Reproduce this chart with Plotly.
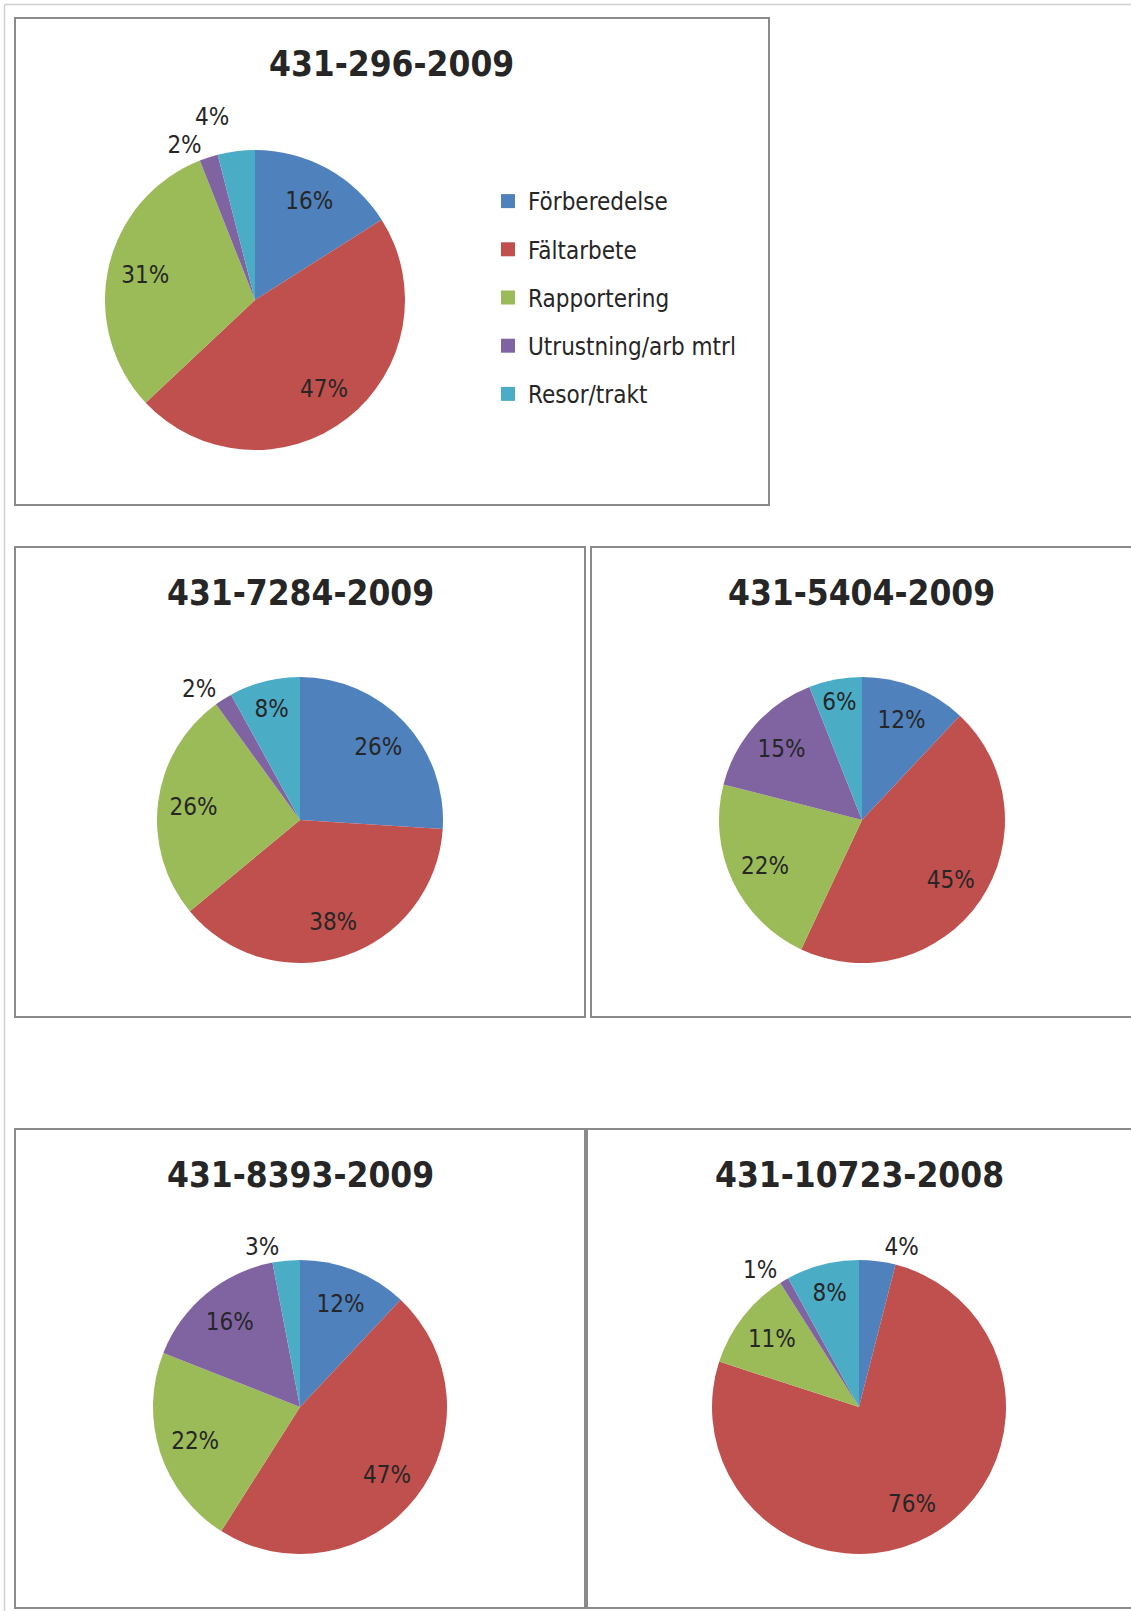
import plotly.graph_objects as go

W, H = 1131, 1611

categories = ["Förberedelse", "Fältarbete", "Rapportering", "Utrustning/arb mtrl", "Resor/trakt"]
colors = ["#4F81BD", "#C0504D", "#9BBB59", "#8064A2", "#4BACC6"]

titles = ["431-296-2009", "431-7284-2009", "431-5404-2009", "431-8393-2009", "431-10723-2008"]
values_296 = [16, 47, 31, 2, 4]
values_7284 = [26, 38, 26, 2, 8]
values_5404 = [12, 45, 22, 15, 6]
values_8393 = [12, 47, 22, 16, 3]
values_10723 = [4, 76, 11, 1, 8]
all_values = [values_296, values_7284, values_5404, values_8393, values_10723]

# label positions (inside / outside) per chart
textpos = [
    ["inside", "inside", "inside", "outside", "outside"],
    ["inside", "inside", "inside", "outside", "inside"],
    ["inside", "inside", "inside", "inside", "inside"],
    ["inside", "inside", "inside", "inside", "outside"],
    ["outside", "inside", "inside", "outside", "inside"],
]

# layout (pixels): pie centre x, centre y, radius
pies = [(255, 300, 150), (300, 820, 143), (862, 820, 143), (300, 1407, 147), (859, 1407, 147)]
title_pos = [(391, 64), (300, 593), (861, 593), (300, 1175), (859, 1175)]
boxes = [(15, 18, 769, 505), (15, 547, 585, 1017), (591, 547, 1140, 1017),
         (15, 1129, 585, 1608), (587, 1129, 1140, 1608)]

FONT = "DejaVu Sans Condensed, sans-serif"
TXT = "#262626"

fig = go.Figure()

def fx(px):
    return px / W

def fy(py):
    return 1 - py / H

for vals, (cx, cy, r), tp in zip(all_values, pies, textpos):
    dom = dict(x=[fx(cx - r), fx(cx + r)], y=[fy(cy + r), fy(cy - r)])
    # coloured pie
    fig.add_trace(go.Pie(
        labels=categories, values=vals, sort=False, direction="clockwise", rotation=0,
        marker=dict(colors=colors, line=dict(width=0)),
        textinfo="none", domain=dom, showlegend=False, hoverinfo="label+percent",
    ))
    # data labels (transparent ring overlay so labels sit at ~3/4 radius like Excel)
    fig.add_trace(go.Pie(
        labels=categories, values=vals, sort=False, direction="clockwise", rotation=0,
        hole=0.5,
        marker=dict(colors=["rgba(0,0,0,0)"] * len(vals), line=dict(width=0)),
        texttemplate="<span style='color:%s;fill-opacity:1'>%%{value}%%</span>" % TXT,
        textposition=tp,
        insidetextorientation="horizontal",
        textfont=dict(family=FONT, size=24, color=TXT),
        outsidetextfont=dict(family=FONT, size=24, color="rgba(0,0,0,0)"),
        domain=dom, showlegend=False, hoverinfo="skip",
    ))

# legend entries
for cat, col in zip(categories, colors):
    fig.add_trace(go.Scatter(
        x=[None], y=[None], mode="markers", name=cat, legendgroup=cat,
        marker=dict(symbol="square", size=14, color=col), showlegend=True,
    ))

for t, (tx, ty) in zip(titles, title_pos):
    fig.add_annotation(x=fx(tx), y=fy(ty), xref="paper", yref="paper", text=t,
                       showarrow=False, xanchor="center", yanchor="middle",
                       font=dict(family=FONT, size=35, color=TXT, weight="bold"))

shapes = []
# outer page frame
shapes.append(dict(type="line", xref="paper", yref="paper", x0=fx(4.5), x1=1, y0=fy(4.5), y1=fy(4.5),
                   line=dict(color="#cfcfcf", width=1.5)))
shapes.append(dict(type="line", xref="paper", yref="paper", x0=fx(4.5), x1=fx(4.5), y0=fy(4.5), y1=0,
                   line=dict(color="#cfcfcf", width=1.5)))
for (x0, y0, x1, y1) in boxes:
    shapes.append(dict(type="rect", xref="paper", yref="paper", x0=fx(x0), x1=fx(x1), y0=fy(y1), y1=fy(y0),
                       line=dict(color="#8a8a8a", width=2), fillcolor="rgba(0,0,0,0)"))

fig.update_layout(
    width=W, height=H, margin=dict(l=0, r=0, t=0, b=0),
    paper_bgcolor="white", plot_bgcolor="white",
    xaxis=dict(visible=False), yaxis=dict(visible=False),
    shapes=shapes,
    legend=dict(x=fx(488), y=fy(179), xanchor="left", yanchor="top",
                font=dict(family=FONT, size=24, color=TXT), tracegroupgap=14,
                bgcolor="rgba(0,0,0,0)", itemclick=False, itemdoubleclick=False),
    uniformtext=dict(minsize=24, mode="show"),
    showlegend=True,
)

fig.write_html("out.html", config={"displayModeBar": False},
               post_script="document.body.style.margin='0';")
